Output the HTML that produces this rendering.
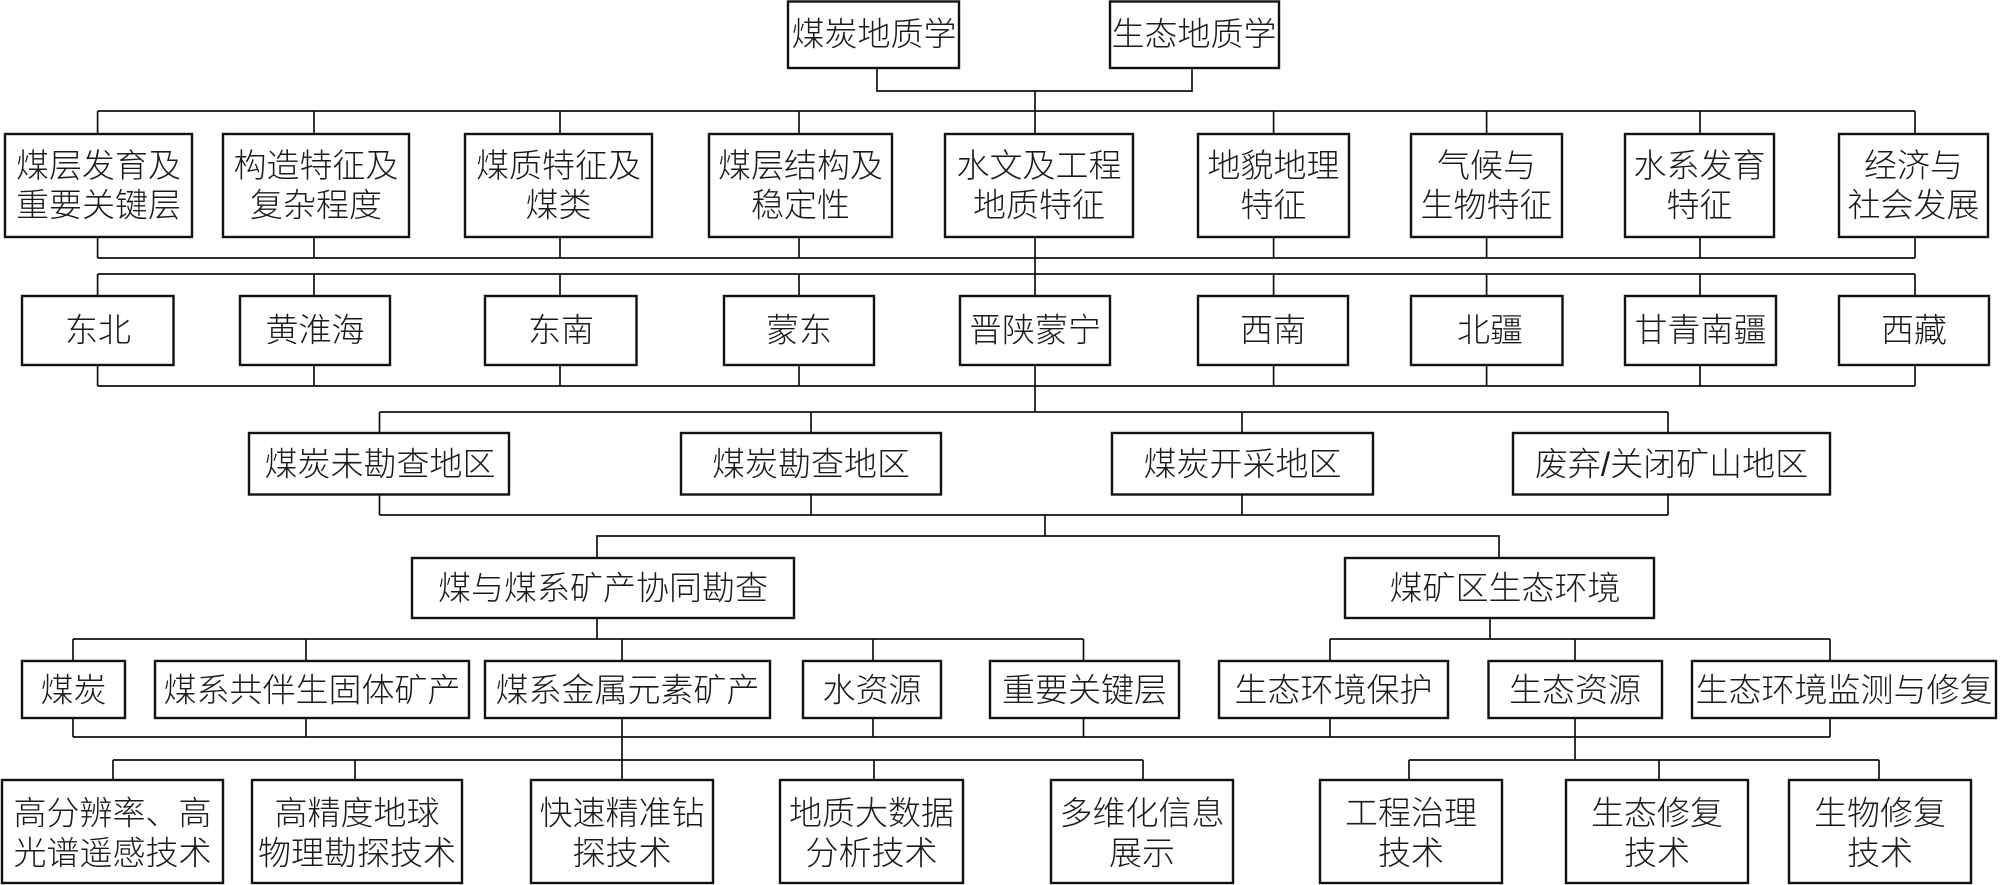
<!DOCTYPE html>
<html>
<head>
<meta charset="utf-8">
<style>
html,body{margin:0;padding:0;background:#fff;}
svg{display:block;}
text{font-family:"Liberation Sans","Noto Sans CJK SC","WenQuanYi Zen Hei",sans-serif;font-size:33px;font-weight:300;fill:#1a1a1a;text-anchor:middle;dominant-baseline:central;}
.b{fill:#fff;stroke:#111;stroke-width:2.4;}
.l{stroke:#111;stroke-width:1.7;fill:none;}
</style>
</head>
<body>
<svg width="2002" height="885" viewBox="0 0 2002 885" xmlns="http://www.w3.org/2000/svg">
<!-- connectors -->
<g class="l">
  <!-- top -->
  <path d="M877 68 V91 H1192 V68"/>
  <path d="M1035 91 V134"/>
  <!-- row1 top bus -->
  <path d="M97.6 111 H1915"/>
  <path d="M97.6 111 V134 M314 111 V134 M560 111 V134 M799 111 V134 M1273.6 111 V134 M1486.6 111 V134 M1700 111 V134 M1915 111 V134"/>
  <!-- row1 bottom bus -->
  <path d="M97.6 258 H1915"/>
  <path d="M97.6 237 V258 M314 237 V258 M560 237 V258 M799 237 V258 M1273.6 237 V258 M1486.6 237 V258 M1700 237 V258 M1915 237 V258"/>
  <path d="M1035 237 V296"/>
  <!-- row2 top bus -->
  <path d="M97.6 274 H1915"/>
  <path d="M97.6 274 V296 M314 274 V296 M560 274 V296 M799 274 V296 M1273.6 274 V296 M1486.6 274 V296 M1700 274 V296 M1915 274 V296"/>
  <!-- row2 bottom bus -->
  <path d="M97.6 386 H1915"/>
  <path d="M97.6 365 V386 M314 365 V386 M560 365 V386 M799 365 V386 M1273.6 365 V386 M1486.6 365 V386 M1700 365 V386 M1915 365 V386"/>
  <path d="M1035 365 V412"/>
  <!-- row3 -->
  <path d="M379.5 412 H1668"/>
  <path d="M379.5 412 V433 M811 412 V433 M1242 412 V433 M1668 412 V433"/>
  <path d="M379.5 515 H1668"/>
  <path d="M379.5 494 V515 M811 494 V515 M1242 494 V515 M1668 494 V515"/>
  <path d="M1045 515 V536"/>
  <!-- row4 -->
  <path d="M597 558 V536 H1499 V558"/>
  <path d="M597 618 V639 M1490 618 V639"/>
  <!-- row5 -->
  <path d="M73 639 H1083.5"/>
  <path d="M73 639 V661 M306 639 V661 M622 639 V661 M873 639 V661 M1083.5 639 V661"/>
  <path d="M1330 639 H1830"/>
  <path d="M1330 639 V661 M1575 639 V661 M1830 639 V661"/>
  <path d="M73 737 H1830"/>
  <path d="M73 718 V737 M306 718 V737 M873 718 V737 M1083.5 718 V737 M1330 718 V737 M1830 718 V737"/>
  <path d="M622 718 V780"/>
  <path d="M1575 718 V760"/>
  <!-- row6 -->
  <path d="M113 760 H1143"/>
  <path d="M113 760 V780 M355 760 V780 M874 760 V780 M1143 760 V780"/>
  <path d="M1409 760 H1879"/>
  <path d="M1409 760 V780 M1659 760 V780 M1879 760 V780"/>
</g>

<!-- top boxes -->
<rect class="b" x="788" y="1.5" width="171" height="66.5"/>
<text x="874" y="34">煤炭地质学</text>
<rect class="b" x="1110" y="1.5" width="169" height="66.5"/>
<text x="1194" y="34">生态地质学</text>

<!-- row1 -->
<rect class="b" x="5" y="134" width="187" height="103"/>
<text x="98.5" y="165.5">煤层发育及</text><text x="98.5" y="205">重要关键层</text>
<rect class="b" x="223" y="134" width="186" height="103"/>
<text x="316" y="165.5">构造特征及</text><text x="316" y="205">复杂程度</text>
<rect class="b" x="465" y="134" width="187" height="103"/>
<text x="558.5" y="165.5">煤质特征及</text><text x="558.5" y="205">煤类</text>
<rect class="b" x="709" y="134" width="183" height="103"/>
<text x="800.5" y="165.5">煤层结构及</text><text x="800.5" y="205">稳定性</text>
<rect class="b" x="945" y="134" width="188" height="103"/>
<text x="1039" y="165.5">水文及工程</text><text x="1039" y="205">地质特征</text>
<rect class="b" x="1198" y="134" width="151" height="103"/>
<text x="1273.5" y="165.5">地貌地理</text><text x="1273.5" y="205">特征</text>
<rect class="b" x="1411" y="134" width="151" height="103"/>
<text x="1486.5" y="165.5">气候与</text><text x="1486.5" y="205">生物特征</text>
<rect class="b" x="1625" y="134" width="149" height="103"/>
<text x="1699.5" y="165.5">水系发育</text><text x="1699.5" y="205">特征</text>
<rect class="b" x="1839" y="134" width="149" height="103"/>
<text x="1913.5" y="165.5">经济与</text><text x="1913.5" y="205">社会发展</text>

<!-- row2 -->
<rect class="b" x="22" y="296" width="151.5" height="69"/>
<text x="98" y="330">东北</text>
<rect class="b" x="240" y="296" width="150" height="69"/>
<text x="315" y="330">黄淮海</text>
<rect class="b" x="485" y="296" width="151.5" height="69"/>
<text x="561" y="330">东南</text>
<rect class="b" x="724" y="296" width="150" height="69"/>
<text x="799" y="330">蒙东</text>
<rect class="b" x="960" y="296" width="150" height="69"/>
<text x="1035" y="330">晋陕蒙宁</text>
<rect class="b" x="1198" y="296" width="150" height="69"/>
<text x="1273" y="330">西南</text>
<rect class="b" x="1411" y="296" width="151.5" height="69"/>
<text x="1490" y="330">北疆</text>
<rect class="b" x="1625" y="296" width="151" height="69"/>
<text x="1700.5" y="330">甘青南疆</text>
<rect class="b" x="1839" y="296" width="150" height="69"/>
<text x="1914" y="330">西藏</text>

<!-- row3 -->
<rect class="b" x="249" y="433" width="260" height="61.5"/>
<text x="380" y="464">煤炭未勘查地区</text>
<rect class="b" x="681" y="433" width="260" height="61.5"/>
<text x="811" y="464">煤炭勘查地区</text>
<rect class="b" x="1112" y="433" width="261" height="61.5"/>
<text x="1242.5" y="464">煤炭开采地区</text>
<rect class="b" x="1513" y="433" width="317" height="61.5"/>
<text x="1671.5" y="464">废弃/关闭矿山地区</text>

<!-- row4 -->
<rect class="b" x="412" y="558" width="382" height="60"/>
<text x="603" y="588">煤与煤系矿产协同勘查</text>
<rect class="b" x="1345" y="558" width="309" height="60"/>
<text x="1505" y="588">煤矿区生态环境</text>

<!-- row5 -->
<rect class="b" x="22" y="661" width="103" height="57"/>
<text x="73.5" y="690">煤炭</text>
<rect class="b" x="155" y="661" width="314" height="57"/>
<text x="312" y="690">煤系共伴生固体矿产</text>
<rect class="b" x="485" y="661" width="285" height="57"/>
<text x="627.5" y="690">煤系金属元素矿产</text>
<rect class="b" x="803" y="661" width="138" height="57"/>
<text x="872" y="690">水资源</text>
<rect class="b" x="990" y="661" width="189" height="57"/>
<text x="1084.5" y="690">重要关键层</text>
<rect class="b" x="1219" y="661" width="229" height="57"/>
<text x="1333.5" y="690">生态环境保护</text>
<rect class="b" x="1488.5" y="661" width="173.5" height="57"/>
<text x="1575" y="690">生态资源</text>
<rect class="b" x="1692" y="661" width="304" height="57"/>
<text x="1844" y="690">生态环境监测与修复</text>

<!-- row6 -->
<rect class="b" x="2" y="780" width="221" height="103"/>
<text x="112.5" y="813">高分辨率、高</text><text x="112.5" y="853">光谱遥感技术</text>
<rect class="b" x="252" y="780" width="210" height="103"/>
<text x="357" y="813">高精度地球</text><text x="357" y="853">物理勘探技术</text>
<rect class="b" x="531" y="780" width="182" height="103"/>
<text x="622" y="813">快速精准钻</text><text x="622" y="853">探技术</text>
<rect class="b" x="780" y="780" width="183" height="103"/>
<text x="871.5" y="813">地质大数据</text><text x="871.5" y="853">分析技术</text>
<rect class="b" x="1051" y="780" width="182" height="103"/>
<text x="1142" y="813">多维化信息</text><text x="1142" y="853">展示</text>
<rect class="b" x="1320" y="780" width="182" height="103"/>
<text x="1411" y="813">工程治理</text><text x="1411" y="853">技术</text>
<rect class="b" x="1566" y="780" width="182" height="103"/>
<text x="1657" y="813">生态修复</text><text x="1657" y="853">技术</text>
<rect class="b" x="1789" y="780" width="182" height="103"/>
<text x="1880" y="813">生物修复</text><text x="1880" y="853">技术</text>
</svg>
</body>
</html>
